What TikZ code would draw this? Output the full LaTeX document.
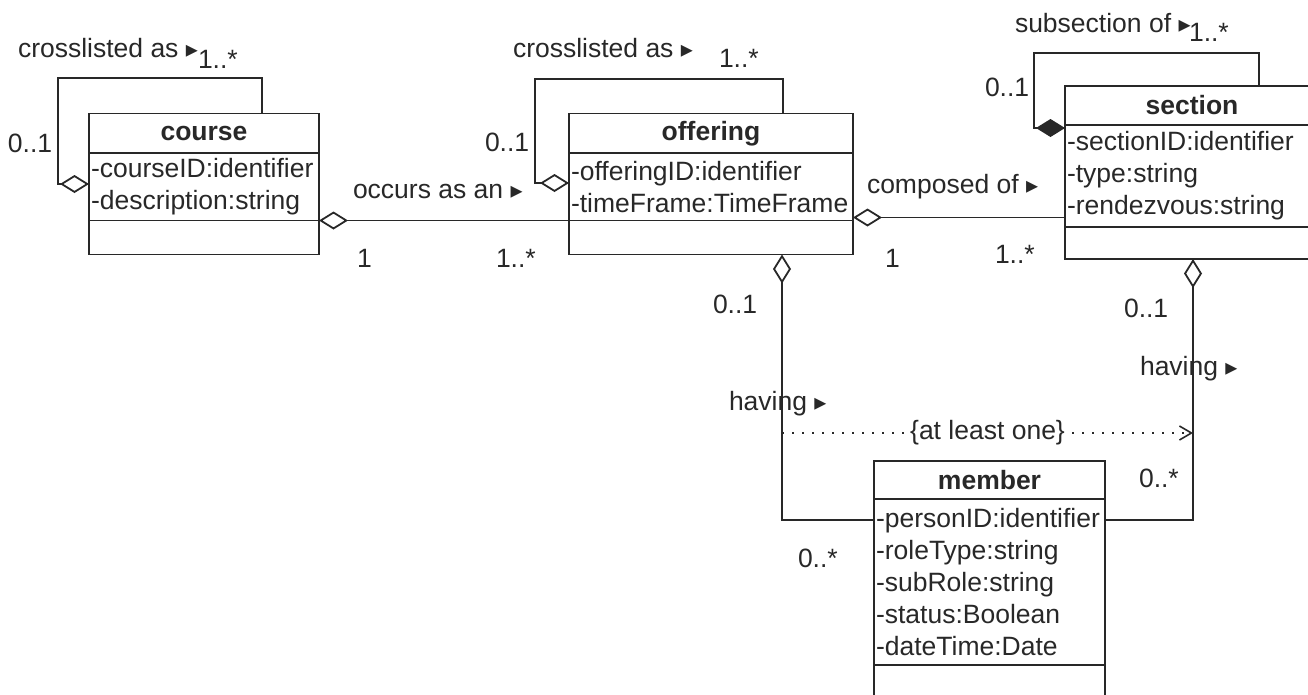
\documentclass[tikz,border=0pt]{standalone}
\usepackage{fontspec}
\setmainfont{Liberation Sans}
\newfontfamily\symfont{DejaVu Sans}
\usepackage{tikz}
\usetikzlibrary{arrows.meta, positioning}
\definecolor{umlline}{RGB}{40,40,40}
\newcommand{\navtri}{{\symfont\fontsize{24}{24}\selectfont\raisebox{0pt}{▸}}}

\begin{document}
\begin{tikzpicture}[x=1pt, y=-1pt,
    font=\fontsize{26.5}{32}\selectfont, text=umlline,
    every node/.style={outer sep=0pt},
    classname/.style={draw=umlline, line width=1.8pt, inner sep=0pt, font=\fontsize{26.5}{32}\selectfont\bfseries},
    classattr/.style={draw=umlline, line width=1.8pt, inner xsep=2pt, inner ysep=0pt, align=left},
    classops/.style={draw=umlline, line width=1.8pt, inner sep=0pt},
    lbl/.style={inner sep=0pt, anchor=base west},
    assoc/.style={draw=umlline, line width=1.8pt},
    aggr/.style={assoc, {Diamond[open, length=29pt, width=18pt]}-},
    comp/.style={assoc, {Diamond[length=29pt, width=18pt]}-},
    constraint/.style={draw=umlline, line width=1.6pt, dash pattern=on 1.6pt off 8.4pt, -{Straight Barb[length=12pt, width=14pt]}}
]
    \useasboundingbox (0,0) rectangle (1308,694);

    \node[classname, minimum width=230pt, minimum height=39.5pt] (course) at (204,133.25) {course};
    \node[classattr, text width=226pt, minimum height=67.5pt, below=0pt of course] (course-attr) {-courseID:identifier\\-description:string};
    \node[classops, minimum width=230pt, minimum height=34pt, below=0pt of course-attr] (course-ops) {};

    \node[classname, minimum width=284pt, minimum height=39.5pt] (offering) at (711,133.25) {offering};
    \node[classattr, text width=280pt, minimum height=67.5pt, below=0pt of offering] (offering-attr) {-offeringID:identifier\\-timeFrame:TimeFrame};
    \node[classops, minimum width=284pt, minimum height=34pt, below=0pt of offering-attr] (offering-ops) {};

    \node[classname, minimum width=254pt, minimum height=39pt] (section) at (1192,105.5) {section};
    \node[classattr, text width=250pt, minimum height=102pt, below=0pt of section] (section-attr) {-sectionID:identifier\\-type:string\\-rendezvous:string};
    \node[classops, minimum width=254pt, minimum height=32pt, below=0pt of section-attr] (section-ops) {};

    \node[classname, minimum width=231pt, minimum height=38pt] (member) at (989.5,480) {member};
    \node[classattr, text width=227pt, minimum height=166pt, below=0pt of member] (member-attr) {-personID:identifier\\-roleType:string\\-subRole:string\\-status:Boolean\\-dateTime:Date};
    \node[classops, minimum width=231pt, minimum height=34pt, below=0pt of member-attr] (member-ops) {};

    \draw[aggr] ([yshift=-31pt]course-attr.north west) -- ++(-31,0) |- ([xshift=58pt,yshift=35.5pt]course.north) -- ([xshift=58pt]course.north);
    \draw[aggr] ([yshift=-30pt]offering-attr.north west) -- ++(-34,0) |- ([xshift=72pt,yshift=34.5pt]offering.north) -- ([xshift=72pt]offering.north);
    \draw[comp] ([yshift=-3pt]section-attr.north west) -- ++(-31,0) |- ([xshift=67pt,yshift=33pt]section.north) -- ([xshift=67pt]section.north);

    \draw[aggr] (course-ops.north east) -- (offering-ops.north west);
    \draw[aggr] ([yshift=3pt]offering-ops.north east) -- ([yshift=3pt]offering-ops.north east -| section-attr.west);
    \draw[aggr] ([xshift=71pt]offering-ops.south) |- ([yshift=-21pt]member-attr.north west);
    \draw[aggr] ([xshift=1pt]section-ops.south) |- ([yshift=-21pt]member-attr.north east);

    \coordinate (having-offering) at (782,433);
    \coordinate (having-section) at (1193,433);
    \draw[constraint] (having-offering) -- node[fill=white, inner xsep=3pt, inner ysep=1pt] (atleastone) {\{at least one\}} (having-section);

    \node[lbl] (course-cross) at (18,57) {crosslisted as \navtri};
    \node[lbl] (course-cross-many) at (198,68) {1..*};
    \node[lbl] (course-cross-one) at (8,152) {0..1};
    \node[lbl] (occurs) at (353,198) {occurs as an \navtri};
    \node[lbl] (occurs-one) at (357,267) {1};
    \node[lbl] (occurs-many) at (496,267) {1..*};
    \node[lbl] (offering-cross) at (513,57) {crosslisted as \navtri};
    \node[lbl] (offering-cross-many) at (719,67) {1..*};
    \node[lbl] (offering-cross-one) at (485,151) {0..1};
    \node[lbl] (composed) at (867,193) {composed of \navtri};
    \node[lbl] (composed-one) at (885,267) {1};
    \node[lbl] (composed-many) at (995,263) {1..*};
    \node[lbl] (subsection) at (1015,32) {subsection of \navtri};
    \node[lbl] (subsection-many) at (1189,41) {1..*};
    \node[lbl] (subsection-one) at (985,96) {0..1};
    \node[lbl] (off-having-one) at (713,313) {0..1};
    \node[lbl] (off-having) at (729,410) {having \navtri};
    \node[lbl] (off-having-many) at (798,567) {0..*};
    \node[lbl] (sec-having-one) at (1124,317) {0..1};
    \node[lbl] (sec-having) at (1140,375) {having \navtri};
    \node[lbl] (sec-having-many) at (1139,487) {0..*};
\end{tikzpicture}
\end{document}
